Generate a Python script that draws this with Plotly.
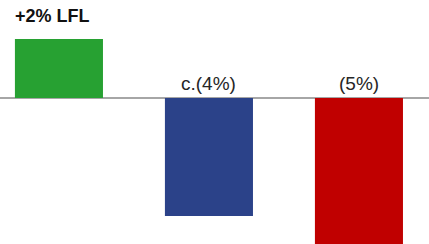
import plotly.graph_objects as go

categories = ["A", "B", "C"]
values = [2, -4, -5]
labels = ["+2% LFL", "c.(4%)", "(5%)"]
colors = ["#27A132", "#2B4289", "#C00000"]

fig = go.Figure()
fig.add_trace(go.Bar(
    x=categories, y=values, marker_color=colors, marker_line_width=0,
    width=0.587, showlegend=False, hoverinfo="skip",
))

# first label: bold, left aligned above the green bar
fig.add_annotation(x=categories[0], y=values[0], text="<b>" + labels[0] + "</b>",
                   showarrow=False, xanchor="left", yanchor="middle",
                   xshift=-46, yshift=23,
                   font=dict(family="Liberation Sans, Arial", size=18, color="#111111"))
for c, t in zip(categories[1:], labels[1:]):
    fig.add_annotation(x=c, y=0, text=t, showarrow=False, xanchor="center",
                       yanchor="bottom", yshift=2,
                       font=dict(family="Liberation Sans, Arial", size=19, color="#262626"))

fig.update_layout(
    width=429, height=244, margin=dict(l=0, r=0, t=0, b=0),
    paper_bgcolor="white", plot_bgcolor="white",
    xaxis=dict(visible=False, range=[-0.393, 2.467]),
    yaxis=dict(range=[-4.95, 3.32], showgrid=False, showticklabels=False,
               zeroline=True, zerolinecolor="#A6A6A6", zerolinewidth=2),
)
fig.write_html("out.html", config={"displayModeBar": False, "staticPlot": True},
               post_script="document.body.style.margin='0';document.body.style.overflow='hidden';")
